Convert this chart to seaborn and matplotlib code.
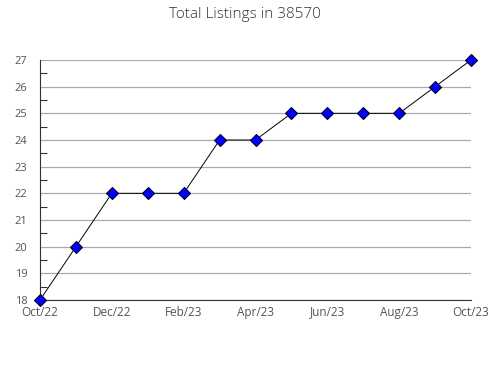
import matplotlib
matplotlib.use("Agg")
import matplotlib.pyplot as plt
import seaborn as sns
import pandas as pd
from matplotlib.ticker import MultipleLocator

months = ["Oct/22", "Nov/22", "Dec/22", "Jan/23", "Feb/23", "Mar/23", "Apr/23",
          "May/23", "Jun/23", "Jul/23", "Aug/23", "Sep/23", "Oct/23"]
listings = [18, 20, 22, 22, 22, 24, 24, 25, 25, 25, 25, 26, 27]
title = "Total Listings in 38570"

sns.set_style("white")
plt.rcParams["font.family"] = ["Open Sans", "DejaVu Sans"]

df = pd.DataFrame({"idx": range(len(months)), "month": months, "value": listings})

fig = plt.figure(figsize=(4.9, 3.8), dpi=100)
ax = fig.add_axes([40/490, 1-300/380, 431/490, 240/380])

sns.lineplot(data=df, x="idx", y="value", ax=ax, color="black", linewidth=0.7,
             marker="D", markersize=6.3, markerfacecolor="#0000ff",
             markeredgecolor="#000033", markeredgewidth=0.8, zorder=3,
             clip_on=False)

ax.set_xlim(0, len(months) - 1)
ax.set_ylim(18, 27)
ax.set_xticks(range(len(months)))
ax.set_xticklabels([m if i % 2 == 0 else "" for i, m in enumerate(months)])
ax.set_yticks(range(18, 28))
ax.yaxis.set_minor_locator(MultipleLocator(0.5))
ax.grid(axis="y", which="major", color="#aaaaaa", linewidth=0.9)
ax.set_axisbelow(True)
for s in ["top", "right"]:
    ax.spines[s].set_visible(False)
for s in ["left", "bottom"]:
    ax.spines[s].set_color("#333333")
    ax.spines[s].set_linewidth(0.8)
ax.tick_params(axis="x", which="major", direction="in", length=5, width=0.8,
               color="#333333", labelsize=8.5, labelcolor="#555555", pad=4)
ax.tick_params(axis="y", which="major", direction="in", length=5, width=0.8,
               color="#333333", labelsize=8, labelcolor="#555555", pad=9)
ax.tick_params(axis="y", which="minor", direction="in", length=5, width=0.8,
               color="#333333", left=True)
ax.set_xlabel("")
ax.set_ylabel("")
fig.text(245/490, 1-15/380, title, ha="center", va="center", fontsize=11,
         color="#333333", fontweight="light")

fig.savefig("out.png", dpi=100)
